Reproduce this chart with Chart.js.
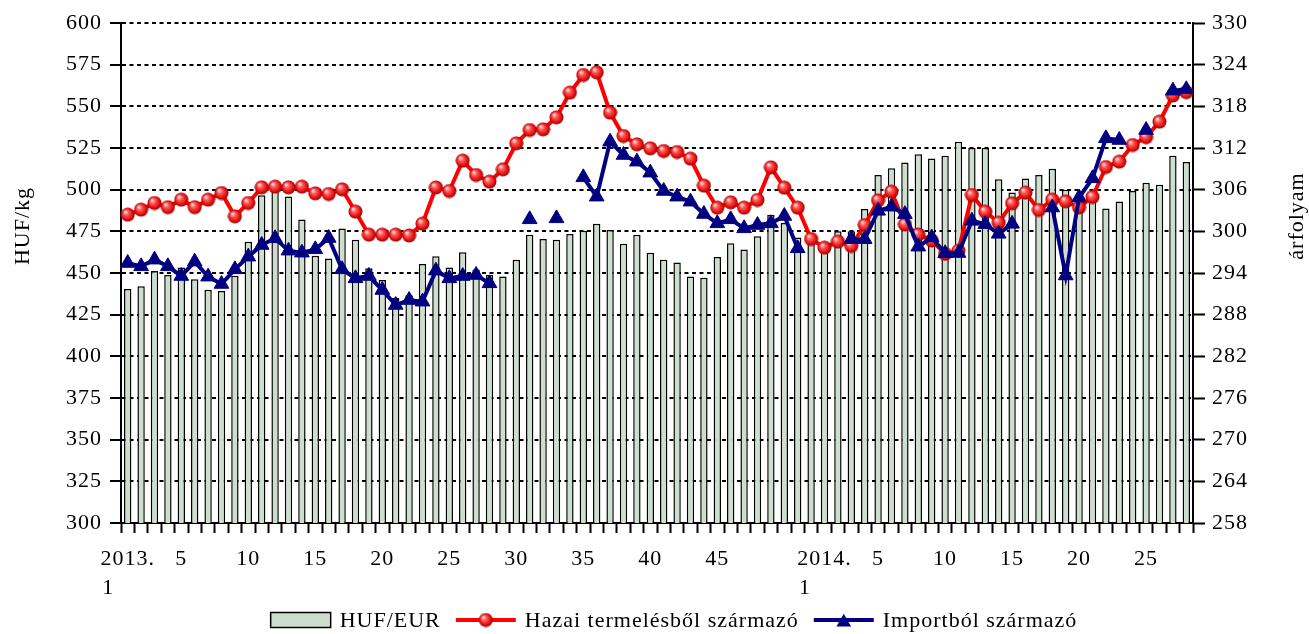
<!DOCTYPE html>
<html><head><meta charset="utf-8">
<script src="https://cdn.jsdelivr.net/npm/chart.js@4.4.0/dist/chart.umd.min.js"></script>
<style>html,body{margin:0;padding:0;background:#fff;}#wrap{width:1309px;height:634px;}</style>
</head><body><div id="wrap"><canvas id="c" width="1309" height="634"></canvas></div>
<script>
const categories = [
"2013/1","2013/2","2013/3","2013/4","2013/5","2013/6","2013/7","2013/8","2013/9","2013/10",
"2013/11","2013/12","2013/13","2013/14","2013/15","2013/16","2013/17","2013/18","2013/19","2013/20",
"2013/21","2013/22","2013/23","2013/24","2013/25","2013/26","2013/27","2013/28","2013/29","2013/30",
"2013/31","2013/32","2013/33","2013/34","2013/35","2013/36","2013/37","2013/38","2013/39","2013/40",
"2013/41","2013/42","2013/43","2013/44","2013/45","2013/46","2013/47","2013/48","2013/49","2013/50",
"2013/51","2013/52","2014/1","2014/2","2014/3","2014/4","2014/5","2014/6","2014/7","2014/8",
"2014/9","2014/10","2014/11","2014/12","2014/13","2014/14","2014/15","2014/16","2014/17","2014/18",
"2014/19","2014/20","2014/21","2014/22","2014/23","2014/24","2014/25","2014/26","2014/27","2014/28"];

const xTickLabels = [
"2013.\n1","","","","5","","","","","10",
"","","","","15","","","","","20",
"","","","","25","","","","","30",
"","","","","35","","","","","40",
"","","","","45","","","","","",
"","","2014.\n1","","","","5","","","",
"","10","","","","","15","","","",
"","20","","","","","25","","",""];

const hufEur = [
291.7,292.1,294.3,293.7,294.8,293.1,291.6,291.4,293.6,298.5,
305.2,305.9,305.0,301.7,296.5,296.1,300.4,298.8,294.7,293.0,
290.4,290.8,295.3,296.4,294.8,297.0,294.5,293.7,293.5,295.9,
299.5,298.9,298.8,299.6,300.1,301.1,300.2,298.2,299.5,296.9,
295.9,295.5,293.5,293.3,296.3,298.3,297.4,299.3,302.4,301.2,
299.1,299.0,297.8,300.0,300.0,303.2,308.1,309.1,309.9,311.1,
310.5,310.9,312.9,312.0,312.0,307.5,305.6,307.6,308.1,309.0,
306.0,305.3,304.8,303.3,304.3,305.8,307.0,306.7,310.9,310.0];

const hazai = [
485,488,492,489.5,494,489.5,494,498,484,492,
501.4,501.8,501.4,501.8,497.8,497.4,500.2,486.8,473,473,
473,472.5,479.6,501.3,499.2,517.4,508.8,504.8,512.2,527.8,
535.8,536.2,543.4,558.2,568.8,570.4,546.2,532.2,527.2,524.8,
523.2,522.6,518.6,502.4,489.2,492.4,489.2,493.8,513.4,501.2,
489.2,470.4,465.2,468.8,466.2,478.8,493.6,498.8,479.1,473.1,
469.5,461.5,463.3,496.8,486.8,480.2,491.8,498.2,487.8,494,
493,489.3,495.6,513.6,516.8,526.8,531.5,540.8,556.5,558.5];

const importbol = [
456,454,458,454,448.2,456.8,447.8,443.4,452.2,459.8,
466.8,470.8,463.4,462.2,464.2,471,452.2,446.8,448.2,439.8,
430.8,433.8,432.8,451.4,446.8,448.2,448.8,443.8,null,null,
482.2,null,482.8,null,507.4,495.8,528.8,520.8,516.8,510.2,
499.2,495.8,492.8,485.4,479.8,482.2,476.8,478.8,479.8,484.2,
464.8,null,null,null,470.3,470.3,487.3,489.8,485.3,465.8,
471.3,461.8,462,481.3,479.3,473.5,479.5,null,null,489.3,
448.5,495.3,506.8,530.8,529.8,null,535.8,null,559.4,560.2];

const seriesNames = ["HUF/EUR", "Hazai termelésből származó", "Importból származó"];
const axisTitles = ["HUF/kg", "árfolyam"];

const FONT = "'Liberation Serif', 'Times New Roman', serif";
const FS = 22;
const LS = '1px';
const BAR_COLOR = 'rgb(205,222,207)';
const RED = '#ff0000';
const NAVY = '#000080';

function makeSphere(r) {
  const c = document.createElement('canvas');
  const s = Math.ceil(r * 2) + 1;
  c.width = s; c.height = s;
  const g = c.getContext('2d');
  const cx = s / 2, cy = s / 2;
  const grad = g.createRadialGradient(cx - r * 0.35, cy - r * 0.4, r * 0.1, cx, cy, r);
  grad.addColorStop(0, '#ffd6d6');
  grad.addColorStop(0.3, '#ff5a5a');
  grad.addColorStop(0.75, '#e01010');
  grad.addColorStop(1, '#a00000');
  g.fillStyle = grad;
  g.beginPath(); g.arc(cx, cy, r, 0, Math.PI * 2); g.fill();
  return c;
}
const sphere = makeSphere(7);

const extras = {
  id: 'extras',
  beforeDraw(chart) {
    chart.ctx.letterSpacing = LS;
  },
  afterDraw(chart) {
    const ctx = chart.ctx;
    ctx.save();
    ctx.letterSpacing = LS;
    ctx.fillStyle = '#000';
    ctx.font = FS + 'px ' + FONT;
    ctx.textAlign = 'center';
    ctx.textBaseline = 'middle';
    // axis titles
    ctx.save(); ctx.translate(23, 226); ctx.rotate(-Math.PI / 2);
    ctx.fillText(axisTitles[0], 0, 0); ctx.restore();
    ctx.save(); ctx.translate(1297, 216); ctx.rotate(-Math.PI / 2);
    ctx.fillText(axisTitles[1], 0, 0); ctx.restore();
    // legend
    const ly = 620;
    const symW = 60, gapSym = 9, gapItem = 15;
    const widths = seriesNames.map(t => ctx.measureText(t).width);
    const total = 3 * symW + 3 * gapSym + 2 * gapItem + widths.reduce((a, b) => a + b, 0);
    let x = 674 - total / 2;
    ctx.textAlign = 'left';
    // bar box
    ctx.fillStyle = BAR_COLOR; ctx.fillRect(x, ly - 7.5, symW, 15);
    ctx.strokeStyle = '#000'; ctx.lineWidth = 1.5; ctx.strokeRect(x, ly - 7.5, symW, 15);
    x += symW + gapSym;
    ctx.fillStyle = '#000'; ctx.fillText(seriesNames[0], x, ly + 1);
    x += widths[0] + gapItem;
    // red line
    ctx.strokeStyle = RED; ctx.lineWidth = 4;
    ctx.beginPath(); ctx.moveTo(x, ly); ctx.lineTo(x + symW, ly); ctx.stroke();
    ctx.drawImage(sphere, x + symW / 2 - sphere.width / 2, ly - sphere.height / 2);
    x += symW + gapSym;
    ctx.fillStyle = '#000'; ctx.fillText(seriesNames[1], x, ly + 1);
    x += widths[1] + gapItem;
    // blue line
    ctx.strokeStyle = NAVY; ctx.lineWidth = 4;
    ctx.beginPath(); ctx.moveTo(x, ly); ctx.lineTo(x + symW, ly); ctx.stroke();
    const tx = x + symW / 2, r = 8.5;
    ctx.fillStyle = NAVY;
    ctx.beginPath();
    ctx.moveTo(tx, ly - r * 0.75);
    ctx.lineTo(tx + r * 0.866, ly + r * 0.75);
    ctx.lineTo(tx - r * 0.866, ly + r * 0.75);
    ctx.closePath(); ctx.fill();
    x += symW + gapSym;
    ctx.fillStyle = '#000'; ctx.fillText(seriesNames[2], x, ly + 1);
    ctx.restore();
  }
};

const tickFont = { family: FONT, size: FS, lineHeight: 1.3 };

new Chart(document.getElementById('c'), {
  data: {
    labels: categories,
    datasets: [
      { type: 'line', label: seriesNames[2], data: importbol, yAxisID: 'y', order: 1,
        borderColor: NAVY, borderWidth: 4, spanGaps: false, tension: 0,
        pointStyle: 'triangle', pointRadius: 8.5, pointBackgroundColor: NAVY,
        pointBorderColor: NAVY, pointBorderWidth: 1 },
      { type: 'line', label: seriesNames[1], data: hazai, yAxisID: 'y', order: 2,
        borderColor: RED, borderWidth: 4, tension: 0,
        pointStyle: sphere, pointRadius: 7 },
      { type: 'bar', label: seriesNames[0], data: hufEur, yAxisID: 'y1', order: 3,
        backgroundColor: BAR_COLOR, borderColor: '#000', borderWidth: 1.5,
        barPercentage: 0.55, categoryPercentage: 1 }
    ]
  },
  options: {
    responsive: false,
    animation: false,
    devicePixelRatio: 1,
    layout: { padding: { top: 23, bottom: 31, left: 0, right: 0 } },
    plugins: { legend: { display: false }, tooltip: { enabled: false } },
    scales: {
      x: {
        type: 'category', offset: true,
        grid: { offset: true, drawOnChartArea: false, drawTicks: true, tickLength: 10,
                tickWidth: 2, tickColor: '#000' },
        border: { display: true, color: '#000', width: 2 },
        ticks: { autoSkip: false, maxRotation: 0, minRotation: 0, padding: 12,
                 color: '#000', font: tickFont,
                 callback: (v, i) => {
                   const t = xTickLabels[i];
                   if (t.indexOf('\n') >= 0) {
                     const p = t.split('\n');
                     return [p[0], p[1] + '      '];
                   }
                   return t;
                 } },
        afterFit: s => { s.height = 80; }
      },
      y: {
        position: 'left', min: 300, max: 600,
        ticks: { stepSize: 25, color: '#000', font: tickFont, padding: 8 },
        grid: { color: '#000', lineWidth: 2, drawTicks: true, tickLength: 11,
                tickWidth: 2, tickColor: '#000', tickBorderDash: [] },
        border: { display: true, color: '#000', width: 2, dash: [4, 3.5] },
        afterFit: s => { s.width = 121; }
      },
      y1: {
        position: 'right', min: 258, max: 330,
        ticks: { stepSize: 6, color: '#000', font: tickFont, padding: 7 },
        grid: { drawOnChartArea: false, drawTicks: true, tickLength: 12,
                tickWidth: 2, tickColor: '#000' },
        border: { display: true, color: '#000', width: 2 },
        afterFit: s => { s.width = 116; }
      }
    }
  },
  plugins: [extras]
});
</script>
</body></html>
